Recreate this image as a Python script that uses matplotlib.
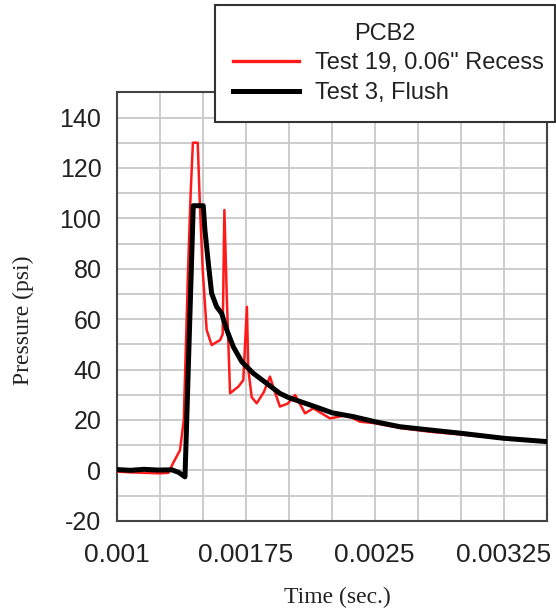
import matplotlib
matplotlib.use("Agg")
import matplotlib.pyplot as plt
from matplotlib.ticker import MultipleLocator, FixedLocator

plt.rcParams["axes.unicode_minus"] = False

# Test 19, 0.06" Recess (red)
red_t = [0.001, 0.001077, 0.001165, 0.001252, 0.0013, 0.001329, 0.001368, 0.00139,
         0.001415, 0.00143, 0.001443, 0.001471, 0.001484, 0.0015, 0.001523, 0.001552,
         0.001601, 0.001616, 0.001626, 0.00164, 0.001659, 0.001707, 0.001736, 0.001757,
         0.001765, 0.001785, 0.001814, 0.001855, 0.001891, 0.001915, 0.001949, 0.001995,
         0.002037, 0.002095, 0.002143, 0.00224, 0.002337, 0.002414, 0.0025, 0.002647,
         0.002822, 0.003002, 0.003252, 0.0035]
red_p = [-0.5, -0.8, -1.0, -1.2, -1.0, 3, 8, 20,
         80, 110, 130, 130, 104.6, 79.5, 55.7, 49.7,
         51.7, 54, 103.3, 68.9, 30.6, 33.2, 35.8, 64.9,
         40, 29, 26.6, 31, 37.2, 32, 25.3, 26.5,
         29.9, 22.6, 24.6, 20.6, 21.9, 19.3, 18.7, 16.8,
         15.3, 14.2, 12.5, 11.2]

# Test 3, Flush (black)
blk_t = [0.001, 0.00108, 0.00116, 0.00124, 0.00132, 0.00136, 0.001397, 0.001445,
         0.001503, 0.001513, 0.001533, 0.001552, 0.001581, 0.00161, 0.00164, 0.001678,
         0.001727, 0.001794, 0.001872, 0.001949, 0.002002, 0.002143, 0.002254, 0.002376,
         0.0025, 0.002647, 0.002754, 0.003002, 0.003252, 0.0035]
blk_p = [0.3, 0.0, 0.4, 0.1, 0.2, -0.8, -2.6, 105,
         105, 95.3, 82, 70.2, 64.9, 62.3, 55.7, 49,
         43.1, 38.5, 34.5, 30.5, 28.8, 25.5, 22.8, 21.3,
         19.3, 17.3, 16.5, 14.7, 12.7, 11.4]

x_ticks = [0.001, 0.00175, 0.0025, 0.00325]
x_tick_labels = ["0.001", "0.00175", "0.0025", "0.00325"]
y_ticks = [-20, 0, 20, 40, 60, 80, 100, 120, 140]
legend_title = "PCB2"
red_label = 'Test 19, 0.06" Recess'
blk_label = "Test 3, Flush"

sans = ["Liberation Sans", "DejaVu Sans"]
serif = ["Liberation Serif", "DejaVu Serif"]

fig = plt.figure(figsize=(5.56, 6.15), dpi=100)
ax = fig.add_axes([0.2099, 0.1533, 0.7734, 0.6966])

ax.plot(red_t, red_p, color="#ff1a1a", lw=1.8, label=red_label, zorder=3,
        solid_joinstyle="round")
ax.plot(blk_t, blk_p, color="black", lw=3.6, label=blk_label, zorder=4,
        solid_joinstyle="round")

ax.set_xlim(0.001, 0.0035)
ax.set_ylim(-20, 150)

ax.xaxis.set_major_locator(FixedLocator(x_ticks))
ax.set_xticklabels(x_tick_labels)
ax.xaxis.set_minor_locator(MultipleLocator(0.00025))
ax.yaxis.set_major_locator(FixedLocator(y_ticks))
ax.yaxis.set_minor_locator(MultipleLocator(10))

ax.grid(which="both", color="#c8c8c8", lw=1.3)
ax.set_axisbelow(True)
ax.tick_params(which="both", length=0)
ax.tick_params(axis="y", pad=11, labelsize=18, labelcolor="#222222")
ax.tick_params(axis="x", pad=16, labelsize=19, labelcolor="#222222")
for lab in ax.get_xticklabels() + ax.get_yticklabels():
    lab.set_family(sans)

for s in ax.spines.values():
    s.set_color("#444444")
    s.set_linewidth(1.5)

fig.text(337 / 556, 1 - 597 / 615, "Time (sec.)", family=serif, fontsize=17,
         ha="center", va="center", color="#222222")
fig.text(23 / 556, 1 - 320 / 615, "Pressure (psi)", family=serif, fontsize=17,
         ha="center", va="center", rotation=90, color="#222222")

leg = fig.legend(loc="upper left",
                 bbox_to_anchor=(215 / 556, 1 - 118 / 615, 340 / 556, 113 / 615),
                 mode="expand", title=legend_title, frameon=True, fancybox=False,
                 prop={"family": sans, "size": 17}, handlelength=2.8, handletextpad=0.7,
                 borderpad=0.75, labelspacing=0.33, borderaxespad=0)
leg.get_title().set_fontfamily(sans)
leg.get_title().set_fontsize(17)
leg.get_title().set_color("#222222")
for t in leg.get_texts():
    t.set_color("#222222")
for h in leg.legend_handles:
    h.set_linewidth(h.get_linewidth() + 0.6 if h.get_color() != "black" else 3.6)
fr = leg.get_frame()
fr.set_edgecolor("#333333")
fr.set_linewidth(1.5)
fr.set_alpha(1)
leg.set_zorder(10)

fig.savefig("out.png", dpi=100)
